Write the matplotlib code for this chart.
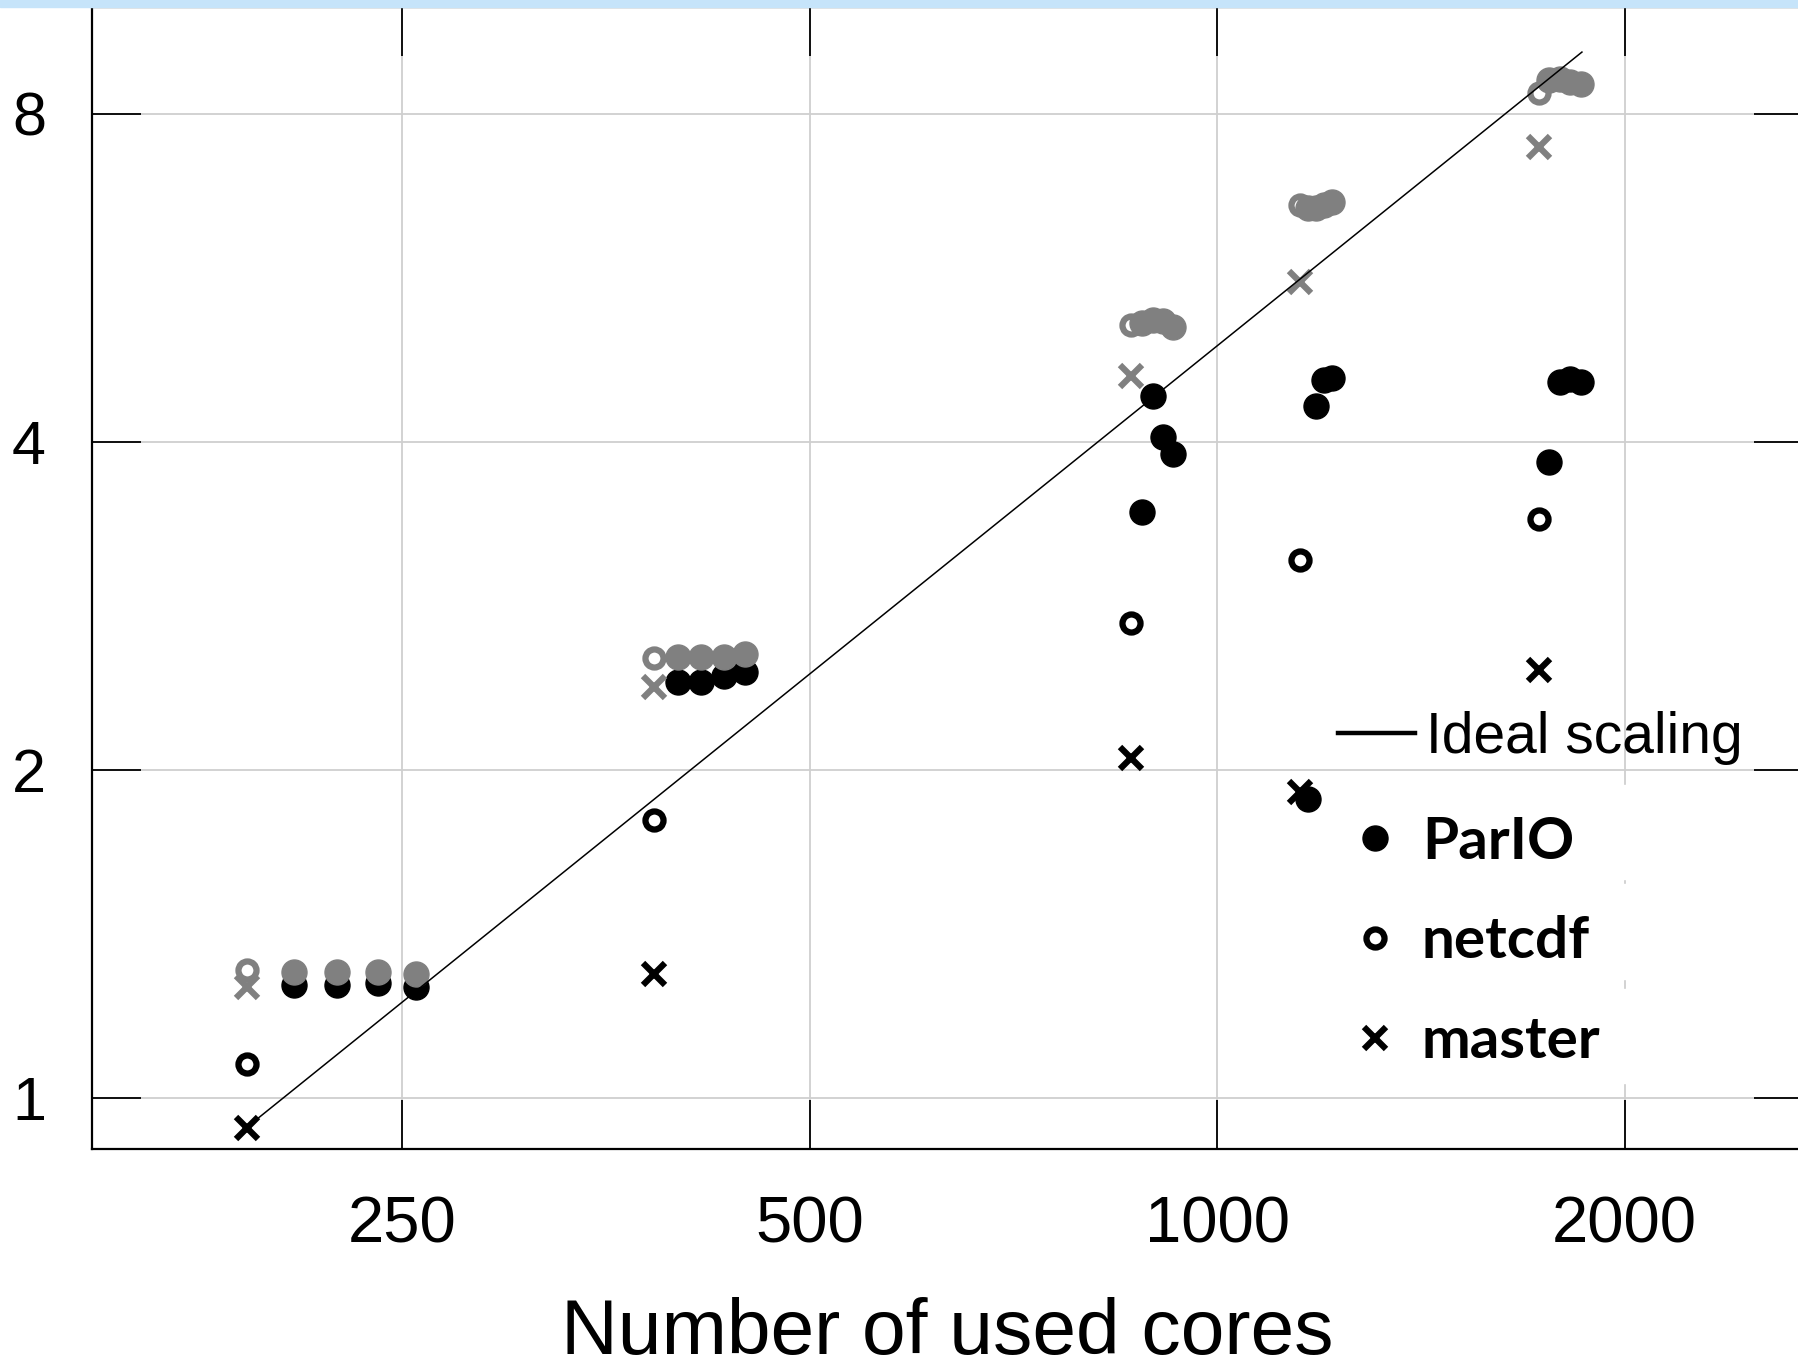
import matplotlib
matplotlib.use("Agg")
from matplotlib import pyplot as plt
from matplotlib.patches import Rectangle

# core counts of the plain runs and of the ParIO runs (extra I/O cores)
base_cores = [192, 384, 864, 1152, 1728]
parIO_cores = [208, 224, 240, 256,
               400, 416, 432, 448,
               880, 896, 912, 928,
               1168, 1184, 1200, 1216,
               1760, 1792, 1824, 1856]

# speedup, black = full run, gray = second configuration
parIO_black = [1.27, 1.27, 1.275, 1.265,
               2.41, 2.41, 2.44, 2.46,
               3.45, 4.41, 4.04, 3.90,
               1.88, 4.31, 4.56, 4.58,
               3.83, 4.54, 4.57, 4.54]
parIO_gray = [1.306, 1.306, 1.306, 1.30,
              2.54, 2.54, 2.54, 2.555,
              5.14, 5.17, 5.16, 5.10,
              6.55, 6.56, 6.60, 6.64,
              8.58, 8.61, 8.55, 8.52]
netcdf_black = [1.074, 1.798, 2.728, 3.117, 3.40]
netcdf_gray = [1.311, 2.532, 5.12, 6.59, 8.36]
master_black = [0.938, 1.299, 2.049, 1.910, 2.469]
master_gray = [1.265, 2.384, 4.60, 5.60, 7.46]

ideal_cores = [192, 1860]
ideal_speedup = [0.94, 9.11]

xticks = [250, 500, 1000, 2000]
yticks = [1, 2, 4, 8]

W, H = 1799, 1361
fig = plt.figure(figsize=(W / 100, H / 100), dpi=100)
fig.patches.append(Rectangle((0, 1 - 7 / H), 1, 7 / H, transform=fig.transFigure,
                             color="#c6e4fa", zorder=0))

ax_l, ax_r, ax_b, ax_t = 91.8, 1803, 1148.5, 7
ax = fig.add_axes([ax_l / W, (H - ax_b) / H, (ax_r - ax_l) / W, (ax_b - ax_t) / H])


def ax_x(px):
    return (px - ax_l) / (ax_r - ax_l)


def ax_y(py):
    return (ax_b - py) / (ax_b - ax_t)


gray = "#808080"
ax.plot(base_cores, netcdf_gray, ls="none", marker="o", ms=13, mfc="none", mec=gray, mew=4.5, zorder=4)
ax.plot(base_cores, master_gray, ls="none", marker="x", ms=16, mec=gray, mew=4.5, zorder=4)
ax.plot(parIO_cores, parIO_black, ls="none", marker="o", ms=18, color="black", zorder=3,
        label="ParIO")
ax.plot(parIO_cores, parIO_gray, ls="none", marker="o", ms=18, color=gray, zorder=4)
ideal, = ax.plot(ideal_cores, ideal_speedup, color="black", lw=1.1, zorder=5, label="Ideal scaling")
ax.plot(base_cores, netcdf_black, ls="none", marker="o", ms=13, mfc="none", mec="black", mew=4.5,
        zorder=6, label="netcdf")
ax.plot(base_cores, master_black, ls="none", marker="x", ms=16, mec="black", mew=4.5,
        zorder=6, label="master")

ax.set_xscale("log", base=2)
ax.set_yscale("log", base=2)
ax.set_xlim(147.5, 2709)
ax.set_ylim(0.8988, 10.02)
ax.set_xticks(xticks)
ax.set_xticklabels([str(t) for t in xticks])
ax.set_yticks(yticks)
ax.set_yticklabels([str(t) for t in yticks])
ax.minorticks_off()

ax.grid(True, color="#cfcfcf", lw=1.3)
for s in ax.spines.values():
    s.set_linewidth(1.6)
ax.tick_params(direction="in", length=35, width=1.3, top=True, right=True)
ax.tick_params(axis="x", labelsize=47, pad=34)
ax.tick_params(axis="y", labelsize=44, pad=33)
for lab in ax.get_xticklabels() + ax.get_yticklabels():
    lab.set_family("Liberation Sans")
ax.set_xlabel("Number of used cores", fontsize=56.5, family="Liberation Sans", labelpad=30)

# white boxes behind the marker legend
for top, bot in [(785, 879), (884, 979), (989, 1083)]:
    ax.add_patch(Rectangle((ax_x(1350), ax_y(bot)), ax_x(1632) - ax_x(1350), ax_y(top) - ax_y(bot),
                           transform=ax.transAxes, color="white", zorder=2))

h, l = ax.get_legend_handles_labels()
lines = dict(zip(l, h))
leg1 = ax.legend([ideal], ["Ideal scaling"], loc="center left",
                 bbox_to_anchor=(ax_x(1338), ax_y(737.7)), frameon=False, borderpad=0,
                 borderaxespad=0, handlelength=1.35, handletextpad=0.2,
                 prop={"family": "Liberation Sans", "size": 41})
for ln in leg1.get_lines():
    ln.set_linewidth(3.2)
ax.add_artist(leg1)
ax.legend([lines["ParIO"], lines["netcdf"], lines["master"]], ["ParIO", "netcdf", "master"],
          loc="center left", bbox_to_anchor=(ax_x(1346), ax_y(942)), frameon=False,
          borderpad=0, borderaxespad=0, numpoints=1, handlelength=1.0, handletextpad=0.3,
          labelspacing=0.8, prop={"family": "Lato", "weight": "bold", "size": 42})

fig.savefig("out.png", dpi=100)
